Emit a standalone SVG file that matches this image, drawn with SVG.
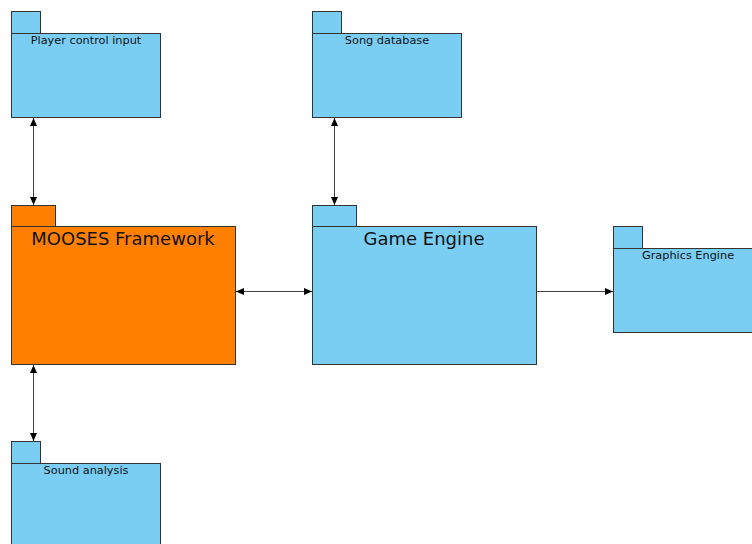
<svg xmlns="http://www.w3.org/2000/svg" width="752" height="544" viewBox="0 0 752 544">
  <style>
    .pkg { fill: #7acef4; stroke: #333; stroke-width: 1; }
    .core { fill: #ff8000; stroke: #333; stroke-width: 1; }
    .lbl { font-family: "DejaVu Sans", "Noto Sans", sans-serif; font-size: 11.3px; fill: #111; text-anchor: middle; }
    .big { font-family: "DejaVu Sans", "Noto Sans", sans-serif; font-size: 18px; fill: #111; text-anchor: middle; }
    .wire { stroke: #444; stroke-width: 1; fill: none; }
  </style>
  <defs>
    <marker id="tip" viewBox="0 0 8 8" refX="8" refY="4" markerWidth="8" markerHeight="8" markerUnits="userSpaceOnUse" orient="auto-start-reverse">
      <path d="M0,0.5 L8,4 L0,7.5 Z" fill="#000"/>
    </marker>
  </defs>

  <g id="player-control-input">
    <rect class="pkg" x="11.5" y="11.5" width="29" height="22"/>
    <rect class="pkg" x="11.5" y="33.5" width="149" height="84"/>
    <text class="lbl" x="86" y="44">Player control input</text>
  </g>

  <g id="song-database">
    <rect class="pkg" x="312.5" y="11.5" width="29" height="22"/>
    <rect class="pkg" x="312.5" y="33.5" width="149" height="84"/>
    <text class="lbl" x="387" y="44">Song database</text>
  </g>

  <g id="mooses-framework">
    <rect class="core" x="11.5" y="205.5" width="44" height="21"/>
    <rect class="core" x="11.5" y="226.5" width="224" height="138"/>
    <text class="big" x="123" y="245">MOOSES Framework</text>
  </g>

  <g id="game-engine">
    <rect class="pkg" x="312.5" y="205.5" width="44" height="21"/>
    <rect class="pkg" x="312.5" y="226.5" width="224" height="138"/>
    <text class="big" x="424" y="245">Game Engine</text>
  </g>

  <g id="graphics-engine">
    <rect class="pkg" x="613.5" y="226.5" width="29" height="22"/>
    <rect class="pkg" x="613.5" y="248.5" width="149" height="84"/>
    <text class="lbl" x="688" y="259">Graphics Engine</text>
  </g>

  <g id="sound-analysis">
    <rect class="pkg" x="11.5" y="441.5" width="29" height="22"/>
    <rect class="pkg" x="11.5" y="463.5" width="149" height="84"/>
    <text class="lbl" x="86" y="474">Sound analysis</text>
  </g>

  <g id="connectors">
    <line class="wire" x1="33.5" y1="118" x2="33.5" y2="205" marker-start="url(#tip)" marker-end="url(#tip)"/>
    <line class="wire" x1="334.5" y1="118" x2="334.5" y2="205" marker-start="url(#tip)" marker-end="url(#tip)"/>
    <line class="wire" x1="33.5" y1="365" x2="33.5" y2="441" marker-start="url(#tip)" marker-end="url(#tip)"/>
    <line class="wire" x1="236" y1="291.5" x2="312" y2="291.5" marker-start="url(#tip)" marker-end="url(#tip)"/>
    <line class="wire" x1="537" y1="291.5" x2="613" y2="291.5" marker-end="url(#tip)"/>
  </g>
</svg>
